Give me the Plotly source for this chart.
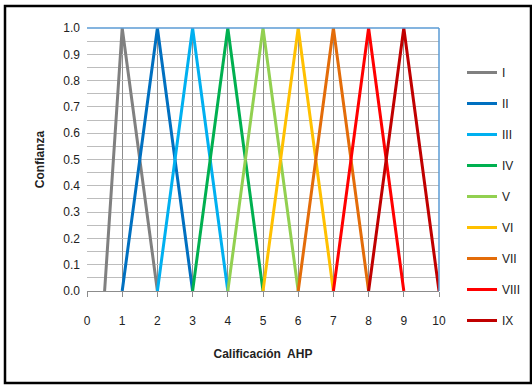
import plotly.graph_objects as go

# Triangular membership functions (x points and membership values)
names = ['I', 'II', 'III', 'IV', 'V', 'VI', 'VII', 'VIII', 'IX']
x_points = [
    [0.5, 1, 2],
    [1, 2, 3],
    [2, 3, 4],
    [3, 4, 5],
    [4, 5, 6],
    [5, 6, 7],
    [6, 7, 8],
    [7, 8, 9],
    [8, 9, 10],
]
y_points = [0, 1, 0]
colors = ['#808080', '#0070C0', '#00B0F0', '#00B050', '#92D050',
          '#FFC000', '#E36C09', '#FF0000', '#C00000']

FONT = 'Liberation Sans'

fig = go.Figure()
for name, xs, col in zip(names, x_points, colors):
    fig.add_trace(go.Scatter(
        x=xs, y=y_points, mode='lines', name=name,
        legendgroup=name,
        line=dict(color=col, width=3),
    ))

# plot area: x 87..439, y 28..291 px
pw, ph = 352, 263
def px_x(p):
    return (p - 87) / pw
def px_y(p):
    return (291 - p) / ph

fig.update_layout(
    width=532, height=385,
    margin=dict(l=87, r=93, t=28, b=94, autoexpand=False),
    paper_bgcolor='white',
    plot_bgcolor='white',
    font=dict(family=FONT, size=12, color='#222'),
    xaxis=dict(
        range=[0, 10], dtick=1, tick0=0,
        showgrid=True, gridcolor='#8c8c8c', gridwidth=1,
        showline=True, linecolor='#8c8c8c', linewidth=1,
        ticks='outside', ticklen=5, tickcolor='#8c8c8c',
        ticklabelstandoff=14,
        zeroline=False,
        title=dict(text='<b>Calificación  AHP</b>', font=dict(size=12), standoff=22),
    ),
    yaxis=dict(
        range=[0, 1], dtick=0.1, tick0=0, tickformat='.1f',
        showgrid=True, gridcolor='#bdbdbd', gridwidth=1,
        minor=dict(dtick=0.05, showgrid=True, gridcolor='#bdbdbd', gridwidth=1),
        showline=False, ticks='', ticklabelstandoff=6,
        zeroline=False,
        title=dict(text='<b>Confianza</b>', font=dict(size=12), standoff=16),
    ),
    legend=dict(
        xref='container', yref='container',
        x=462 / 532, y=1 - 58 / 385, xanchor='left', yanchor='top',
        font=dict(size=12), tracegroupgap=12, maxheight=340,
        bgcolor='rgba(0,0,0,0)',
    ),
    shapes=[
        dict(type='line', xref='paper', yref='paper', x0=0, x1=1, y0=1, y1=1,
             line=dict(color='#5B9BD5', width=1.5)),
        dict(type='line', xref='paper', yref='paper', x0=1, x1=1, y0=0, y1=1,
             line=dict(color='#5B9BD5', width=1.5)),
        dict(type='rect', xref='paper', yref='paper',
             x0=px_x(5), x1=px_x(531), y0=px_y(383), y1=px_y(6),
             line=dict(color='black', width=2.5), layer='above'),
    ],
)

fig.write_html('out.html', config={'displayModeBar': False},
               post_script="document.body.style.margin='0';")
